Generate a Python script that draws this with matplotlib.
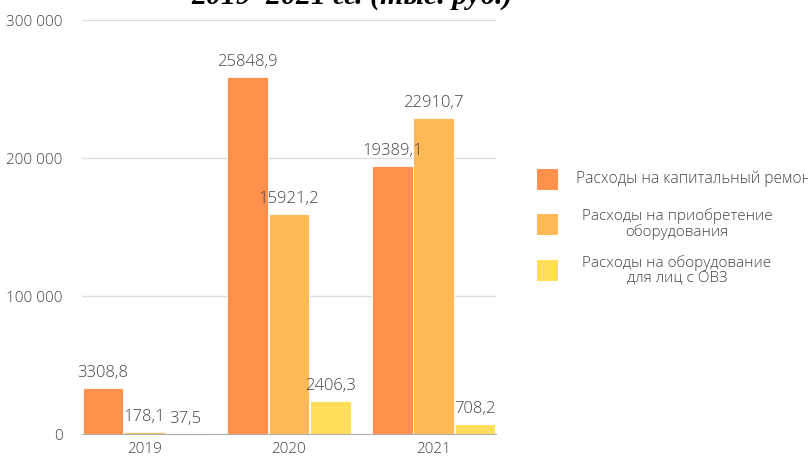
import matplotlib.pyplot as plt
import numpy as np

years = ["2019", "2020", "2021"]
series_names = [
    "Расходы на капитальный ремонт",
    "Расходы на приобретение\nоборудования",
    "Расходы на оборудование\nдля лиц с ОВЗ",
]
# bar heights as drawn in the chart (axis scale)
repair = [33088, 258489, 193891]
equipment = [1781, 159212, 229107]
ovz = [375, 24063, 7082]
# value labels as printed above the bars
repair_labels = ["3308,8", "25848,9", "19389,1"]
equipment_labels = ["178,1", "15921,2", "22910,7"]
ovz_labels = ["37,5", "2406,3", "708,2"]

y_ticks = [0, 100000, 200000, 300000]
y_tick_labels = ["0", "100 000", "200 000", "300 000"]
title = "2019–2021 гг. (тыс. руб.)"

colors = ["#FF914D", "#FFBA57", "#FFDE59"]
text_color = "#444444"

plt.rcParams["font.family"] = ["Open Sans", "DejaVu Sans"]

fig = plt.figure(figsize=(8.08, 4.59), dpi=100)
ax = fig.add_axes([82 / 808, 25 / 459, 414 / 808, 414 / 459])

x = np.arange(len(years))
w = 0.28
step = 0.285
all_vals = [repair, equipment, ovz]
all_labels = [repair_labels, equipment_labels, ovz_labels]
for i, (vals, labs) in enumerate(zip(all_vals, all_labels)):
    bars = ax.bar(x + (i - 1) * step, vals, width=w, color=colors[i],
                  edgecolor="white", linewidth=0.6, zorder=3)
    texts = ax.bar_label(bars, labels=labs, padding=5, fontsize=12,
                         color=text_color, fontweight="light")
    for t in texts:
        t.set_zorder(6)

ax.set_xlim(-0.43, 2.43)
ax.set_ylim(0, 300000)
ax.set_xticks(x)
ax.set_xticklabels(years)
ax.set_yticks(y_ticks)
ax.set_yticklabels(y_tick_labels)
ax.tick_params(axis="both", length=0, labelsize=11, labelcolor=text_color)
ax.tick_params(axis="y", pad=14)
ax.tick_params(axis="x", pad=6)
for lab in ax.get_xticklabels() + ax.get_yticklabels():
    lab.set_fontweight("light")

ax.grid(axis="y", color="#dddddd", linewidth=1, zorder=0)
for s in ["top", "right", "left"]:
    ax.spines[s].set_visible(False)
ax.spines["bottom"].set_color("#b0b0b0")
ax.spines["bottom"].set_zorder(4)

# title, only its lower edge is visible (upper part cut off in the original)
fig.text(352 / 808, 1 - 4 / 459, title, ha="center", va="baseline",
         fontsize=21.5, fontweight="bold", fontstyle="italic",
         family="Liberation Serif", color="black")

# legend drawn by hand
leg_y = [179, 224, 270]
for i, name in enumerate(series_names):
    yc = 1 - leg_y[i] / 459
    fig.patches.append(plt.Rectangle((537 / 808, yc - 10.5 / 459), 21 / 808, 21 / 459,
                                     transform=fig.transFigure, facecolor=colors[i],
                                     edgecolor="none", figure=fig))
    if i == 0:
        fig.text(576 / 808, yc, name, ha="left", va="center", fontsize=11.2,
                 color=text_color, fontweight="light")
    else:
        fig.text(677 / 808, yc, name, ha="center", va="center", fontsize=11,
                 color=text_color, fontweight="light", multialignment="center",
                 linespacing=0.95)

fig.savefig("out.png", dpi=100)
